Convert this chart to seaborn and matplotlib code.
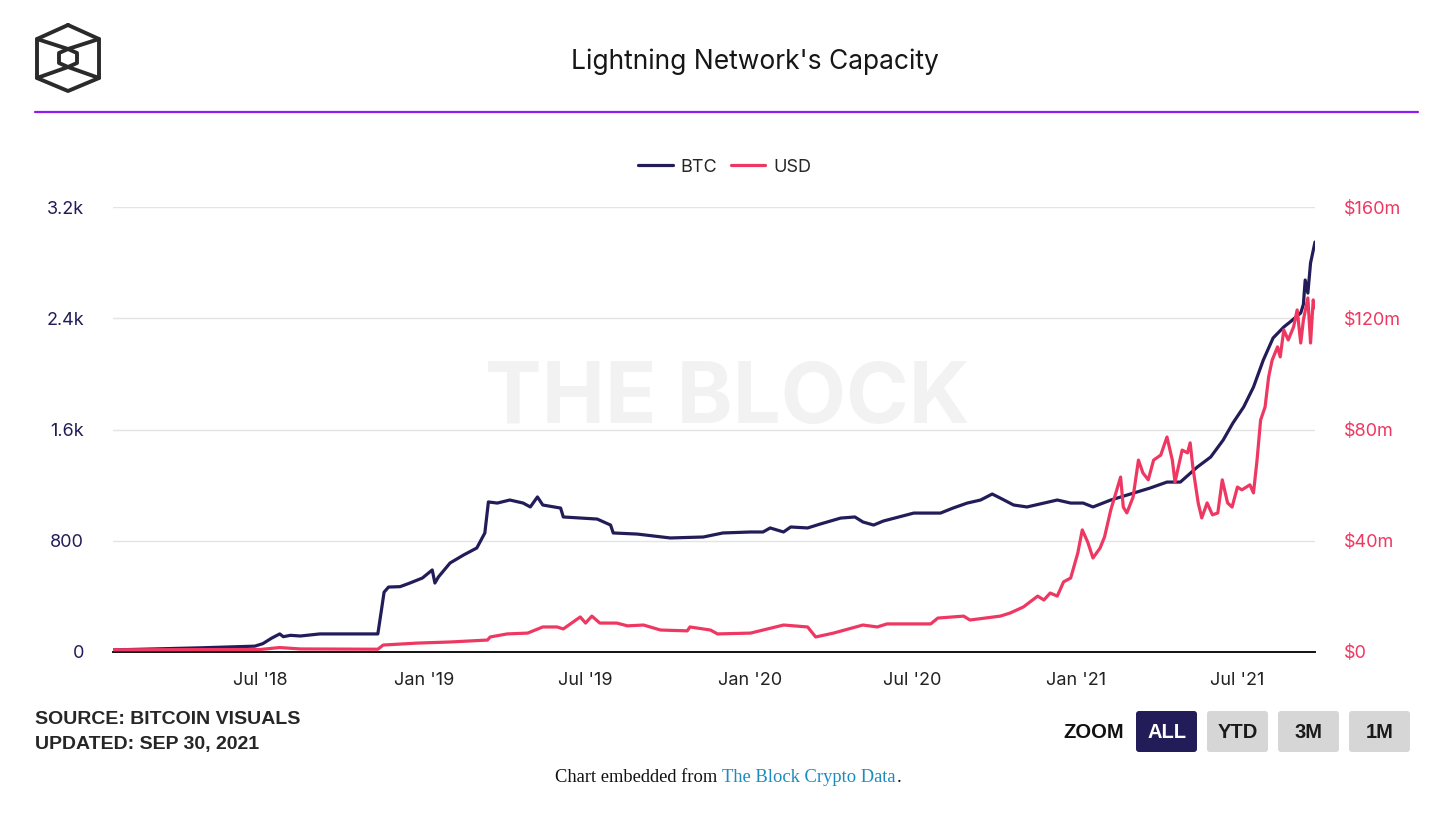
import pandas as pd
import matplotlib.pyplot as plt
from matplotlib.patches import FancyBboxPatch
import seaborn as sns

# BTC capacity
btc_dates = [
    '2018-01-17', '2018-04-25', '2018-06-25', '2018-07-04', '2018-07-14', '2018-07-23',
    '2018-07-27', '2018-08-04', '2018-08-15', '2018-09-06', '2018-11-10', '2018-11-14',
    '2018-11-17', '2018-11-22', '2018-12-05', '2018-12-16', '2018-12-30', '2019-01-10',
    '2019-01-13', '2019-01-17', '2019-01-30', '2019-02-14', '2019-03-01', '2019-03-10',
    '2019-03-14', '2019-03-24', '2019-04-07', '2019-04-22', '2019-04-30', '2019-05-08',
    '2019-05-14', '2019-06-03', '2019-06-06', '2019-07-14', '2019-07-29', '2019-08-01',
    '2019-08-28', '2019-10-04', '2019-11-10', '2019-12-02', '2020-01-02', '2020-01-16',
    '2020-01-24', '2020-02-08', '2020-02-16', '2020-03-06', '2020-03-20', '2020-04-12',
    '2020-04-28', '2020-05-07', '2020-05-19', '2020-05-30', '2020-07-03', '2020-08-02',
    '2020-08-16', '2020-09-01', '2020-09-16', '2020-09-29', '2020-10-08', '2020-10-23',
    '2020-11-07', '2020-12-11', '2020-12-26', '2021-01-09', '2021-01-20', '2021-02-09',
    '2021-03-25', '2021-04-13', '2021-04-28', '2021-05-17', '2021-06-01', '2021-06-15',
    '2021-06-26', '2021-07-08', '2021-07-19', '2021-07-30', '2021-08-10', '2021-08-22',
    '2021-08-29', '2021-09-10', '2021-09-13', '2021-09-15', '2021-09-18', '2021-09-21',
    '2021-09-26',
]
btc_values = [
    15, 30, 42, 60, 100, 130,
    110, 120, 115, 130, 130, 300,
    430, 467, 470, 496, 532, 590,
    496, 540, 640, 697, 748, 856,
    1079, 1071, 1093, 1071, 1043, 1115,
    1057, 1035, 971, 956, 913, 856,
    848, 820, 827, 856, 863, 863,
    892, 863, 899, 892, 920, 963,
    971, 935, 913, 942, 999, 999,
    1035, 1071, 1093, 1136, 1107, 1057,
    1043, 1093, 1071, 1071, 1043, 1093,
    1179, 1222, 1222, 1330, 1402, 1524,
    1647, 1762, 1905, 2099, 2258, 2337,
    2373, 2438, 2500, 2675, 2581, 2797,
    2948,
]

# USD capacity in millions
usd_dates = [
    '2018-01-17', '2018-07-01', '2018-07-23', '2018-08-15', '2018-11-10', '2018-11-16',
    '2018-12-24', '2019-01-30', '2019-03-13', '2019-03-16', '2019-04-04', '2019-04-27',
    '2019-05-14', '2019-05-30', '2019-06-06', '2019-06-25', '2019-07-01', '2019-07-08',
    '2019-07-17', '2019-08-05', '2019-08-17', '2019-09-04', '2019-09-23', '2019-10-23',
    '2019-10-26', '2019-11-18', '2019-11-26', '2020-01-02', '2020-02-08', '2020-03-06',
    '2020-03-15', '2020-04-04', '2020-05-07', '2020-05-23', '2020-06-03', '2020-07-22',
    '2020-07-30', '2020-08-28', '2020-09-04', '2020-10-08', '2020-10-19', '2020-11-03',
    '2020-11-19', '2020-11-26', '2020-12-03', '2020-12-11', '2020-12-18', '2020-12-26',
    '2021-01-03', '2021-01-08', '2021-01-14', '2021-01-20', '2021-01-28', '2021-02-02',
    '2021-02-09', '2021-02-20', '2021-02-23', '2021-02-27', '2021-03-06', '2021-03-12',
    '2021-03-17', '2021-03-23', '2021-03-29', '2021-04-06', '2021-04-13', '2021-04-19',
    '2021-04-22', '2021-04-30', '2021-05-06', '2021-05-09', '2021-05-12', '2021-05-18',
    '2021-05-22', '2021-05-28', '2021-06-03', '2021-06-09', '2021-06-14', '2021-06-20',
    '2021-06-25', '2021-07-01', '2021-07-06', '2021-07-15', '2021-07-19', '2021-07-23',
    '2021-07-27', '2021-08-01', '2021-08-05', '2021-08-09', '2021-08-15', '2021-08-18',
    '2021-08-22', '2021-08-27', '2021-09-02', '2021-09-06', '2021-09-10', '2021-09-13',
    '2021-09-18', '2021-09-21', '2021-09-24', '2021-09-26',
]
usd_values = [
    0.8, 0.9, 1.6, 1.1, 1.0, 2.5,
    3.2, 3.6, 4.3, 5.4, 6.5, 6.8,
    9.0, 9.0, 8.3, 12.6, 10.4, 12.9,
    10.4, 10.4, 9.4, 9.7, 7.9, 7.6,
    9.0, 7.9, 6.5, 6.8, 9.7, 9.0,
    5.4, 6.8, 9.7, 9.0, 10.1, 10.1,
    12.2, 12.9, 11.5, 12.9, 14.0, 16.2,
    20.1, 18.7, 21.2, 20.1, 25.2, 26.6,
    35.6, 43.9, 39.6, 33.8, 37.4, 41.4,
    51.1, 62.9, 52.1, 50.0, 55.7, 69.0,
    64.4, 61.9, 69.0, 70.8, 77.3, 69.0,
    61.1, 72.6, 71.6, 75.2, 66.5, 53.6,
    48.2, 53.6, 49.3, 50.0, 61.9, 53.6,
    52.1, 59.3, 58.3, 60.1, 57.2, 69.0,
    83.4, 88.1, 98.9, 105.0, 109.7, 106.1,
    115.8, 112.2, 116.9, 123.0, 111.1, 119.4,
    127.3, 111.1, 126.6, 123.7,
]

x_tick_dates = ['2018-07-01', '2019-01-01', '2019-07-01', '2020-01-01',
                '2020-07-01', '2021-01-01', '2021-07-01']
x_tick_labels = ["Jul '18", "Jan '19", "Jul '19", "Jan '20", "Jul '20", "Jan '21", "Jul '21"]
btc_ticks = [0, 800, 1600, 2400, 3200]
btc_tick_labels = ['0', '800', '1.6k', '2.4k', '3.2k']
usd_ticks = [0, 40, 80, 120, 160]
usd_tick_labels = ['$0', '$40m', '$80m', '$120m', '$160m']
zoom_buttons = ['ALL', 'YTD', '3M', '1M']

NAVY = '#221d58'
RED = '#ee3862'
W, H = 1456, 835

sns.set_theme(style='white')
plt.rcParams['font.family'] = ['Inter', 'DejaVu Sans']


def px_box(x0, y0, x1, y1):
    return [x0 / W, 1 - y1 / H, (x1 - x0) / W, (y1 - y0) / H]


fig = plt.figure(figsize=(W / 100, H / 100), dpi=100)
fig.patch.set_facecolor('white')

# overlay in pixel coordinates for header / footer bits
ov = fig.add_axes([0, 0, 1, 1])
ov.set_xlim(0, W)
ov.set_ylim(H, 0)
ov.axis('off')

# logo (cube outline)
logo_kw = dict(color='#2a2a2a', lw=2.8, solid_capstyle='round', solid_joinstyle='round')
outer_x = [68, 99, 99, 68, 37, 37, 68]
outer_y = [25, 39, 78, 91, 78, 39, 25]
ov.plot(outer_x, outer_y, **logo_kw)
inner_x = [68, 77, 77, 68, 59, 59, 68]
inner_y = [49, 53, 63, 67, 63, 53, 49]
ov.plot(inner_x, inner_y, **logo_kw)
ov.plot([37, 68, 99], [39, 49, 39], **logo_kw)
ov.plot([37, 68, 99], [78, 67, 78], **logo_kw)

ov.text(755, 62, "Lightning Network's Capacity", ha='center', va='center',
        fontsize=19, color='#161616')
ov.plot([35, 1418], [112, 112], color='#9119f2', lw=1.6)

ov.text(35, 720, 'SOURCE: BITCOIN VISUALS', ha='left', va='center', fontsize=14,
        fontweight='bold', color='#262626', family=['Liberation Sans', 'DejaVu Sans'])
ov.text(35, 744, 'UPDATED: SEP 30, 2021', ha='left', va='center', fontsize=14,
        fontweight='bold', color='#262626', family=['Liberation Sans', 'DejaVu Sans'])

ov.text(1094, 732, 'ZOOM', ha='center', va='center', fontsize=14.5, fontweight='bold',
        color='#111111', family=['Liberation Sans', 'DejaVu Sans'])
for i, lab in enumerate(zoom_buttons):
    bx = 1136 + i * 71
    active = i == 0
    ov.add_patch(FancyBboxPatch((bx, 711), 61, 41, boxstyle='round,pad=0,rounding_size=3',
                                facecolor=NAVY if active else '#d6d6d6', edgecolor='none'))
    ov.text(bx + 30.5, 732, lab, ha='center', va='center', fontsize=14.5, fontweight='bold',
            color='white' if active else '#1a1a1a', family=['Liberation Sans', 'DejaVu Sans'])

# footer, pieces chained left to right
serif = ['Liberation Serif', 'DejaVu Serif']
footer = [('Chart embedded from', '#111111', 5), ('The Block Crypto Data', '#1a8cbf', 1),
          ('.', '#111111', 0)]
fig.canvas.draw()
renderer = fig.canvas.get_renderer()
fx = 555
for txt, col, gap in footer:
    t = ov.text(fx, 778, txt, ha='left', va='center', fontsize=13.3, color=col, family=serif)
    fx = ov.transData.inverted().transform(t.get_window_extent(renderer))[1][0] + gap

# main chart
ax = fig.add_axes(px_box(113, 207, 1315, 652))
ax2 = ax.twinx()

btc = pd.DataFrame({'date': pd.to_datetime(btc_dates), 'value': btc_values})
usd = pd.DataFrame({'date': pd.to_datetime(usd_dates), 'value': usd_values})

sns.lineplot(data=btc, x='date', y='value', ax=ax, color=NAVY, linewidth=2.3, label='BTC',
             legend=False)
sns.lineplot(data=usd, x='date', y='value', ax=ax2, color=RED, linewidth=2.3, label='USD',
             legend=False)

ax.text(0.511, 0.566, 'THE BLOCK', transform=ax.transAxes, ha='center', va='center',
        fontsize=61, fontweight='bold', color='#f2f2f2', zorder=0)

ax.set_xlim(pd.Timestamp('2018-01-17'), pd.Timestamp('2021-09-26'))
ax.set_ylim(0, 3200)
ax2.set_ylim(0, 160)

ax.set_yticks(btc_ticks, btc_tick_labels)
ax2.set_yticks(usd_ticks, usd_tick_labels)
ax.set_xticks(pd.to_datetime(x_tick_dates), x_tick_labels)

ax.grid(axis='y', color='#e4e4e4', linewidth=1.0)
ax.grid(axis='x', visible=False)
ax2.grid(False)
ax.set_axisbelow(True)

ax.tick_params(axis='y', length=0, pad=21, labelsize=13, labelcolor=NAVY)
ax2.tick_params(axis='y', length=0, pad=21, labelsize=13, labelcolor=RED)
ax.tick_params(axis='x', length=0, pad=14.5, labelsize=13, labelcolor='#222222')

for a in (ax, ax2):
    a.set_xlabel('')
    a.set_ylabel('')
    for side in ('top', 'left', 'right', 'bottom'):
        a.spines[side].set_visible(False)
ax.spines['bottom'].set_visible(True)
ax.spines['bottom'].set_color('#111111')
ax.spines['bottom'].set_linewidth(1.4)
ax.spines['bottom'].set_zorder(5)

h1, l1 = ax.get_legend_handles_labels()
h2, l2 = ax2.get_legend_handles_labels()
fig.legend(h1 + h2, l1 + l2, loc='center', bbox_to_anchor=(725 / W, 1 - 167 / H), ncol=2,
           frameon=False, fontsize=13, handlelength=1.9, handletextpad=0.45,
           columnspacing=0.75)

fig.savefig('out.png', dpi=100, facecolor='white')
